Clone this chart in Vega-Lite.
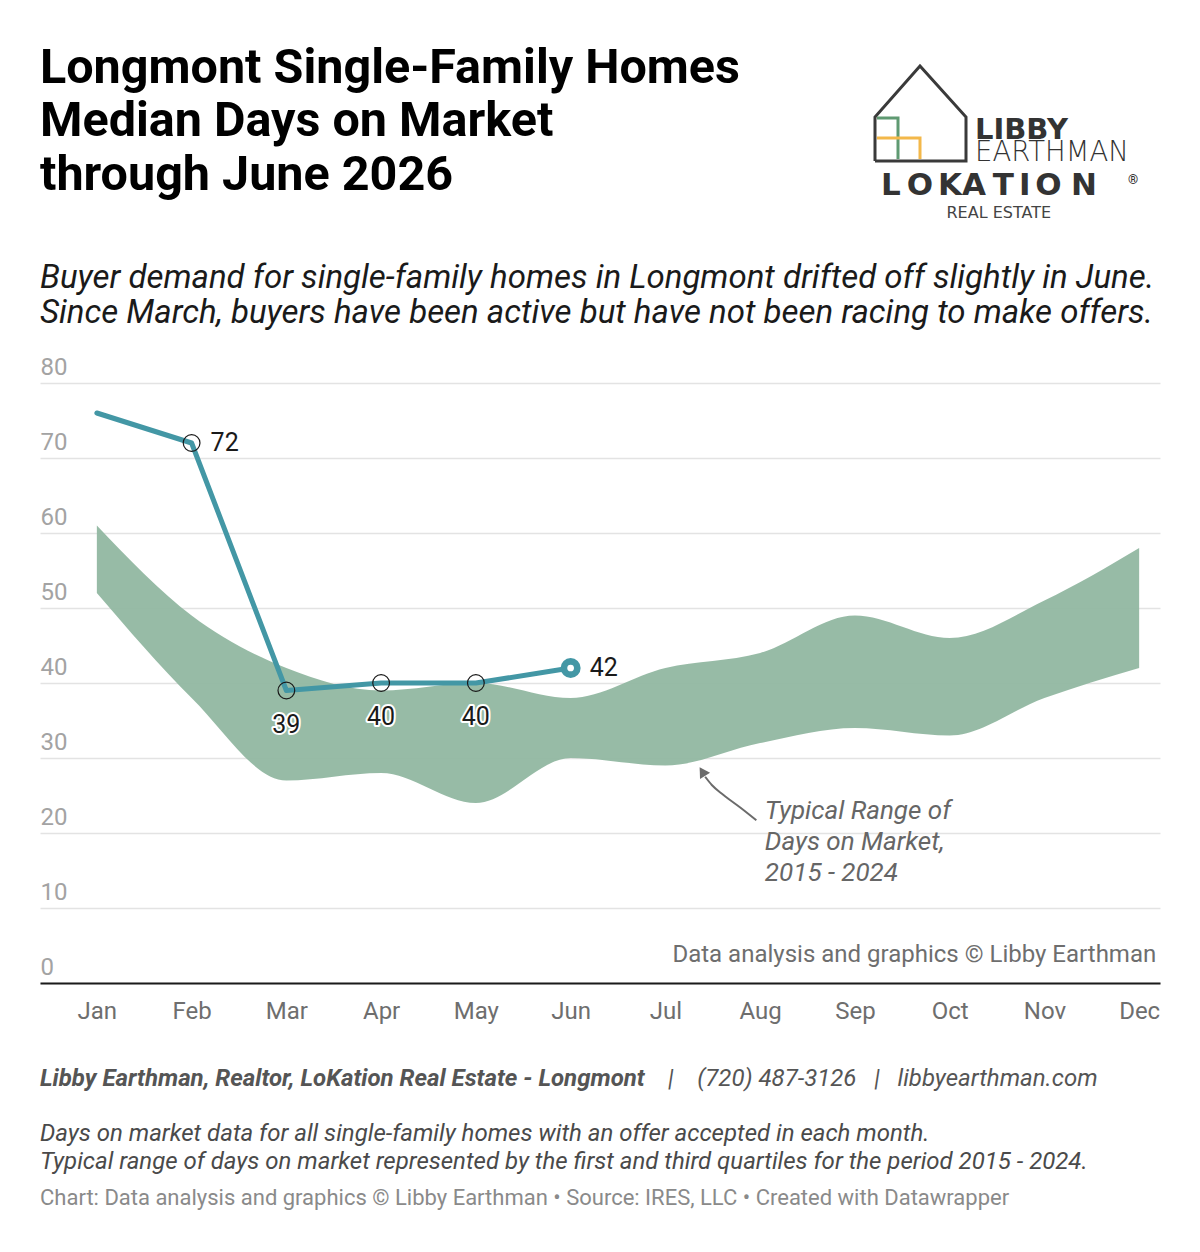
{
  "$schema": "https://vega.github.io/schema/vega-lite/v6.json",
  "background": "white",
  "padding": {"left": 40, "right": 40, "top": 40, "bottom": 0},
  "config": {
    "font": "Roboto",
    "view": {"stroke": null},
    "title": {"anchor": "start", "frame": "group", "color": "#111111", "fontWeight": "normal"},
    "axisY": {
      "domain": false, "ticks": false, "tickCount": 8,
      "gridColor": "#e3e3e3", "gridWidth": 1.5,
      "labelAlign": "left", "labelBaseline": "alphabetic", "labelPadding": 0, "labelOffset": -9,
      "labelFontSize": 24, "labelColor": "#a3a3a3"
    }
  },
  "datasets": {
    "band": [
      {"m": 1, "lo": 52, "hi": 61},
      {"m": 2, "lo": 38, "hi": 49},
      {"m": 3, "lo": 27, "hi": 42},
      {"m": 4, "lo": 28, "hi": 39},
      {"m": 5, "lo": 24, "hi": 40},
      {"m": 6, "lo": 30, "hi": 38},
      {"m": 7, "lo": 29, "hi": 42},
      {"m": 8, "lo": 32, "hi": 44},
      {"m": 9, "lo": 34, "hi": 49},
      {"m": 10, "lo": 33, "hi": 46},
      {"m": 11, "lo": 38, "hi": 51},
      {"m": 12, "lo": 42, "hi": 58}
    ],
    "dom": [
      {"m": 1, "v": 76},
      {"m": 2, "v": 72},
      {"m": 3, "v": 39},
      {"m": 4, "v": 40},
      {"m": 5, "v": 40},
      {"m": 6, "v": 42}
    ],
    "arrow": [
      {"m": 7.96, "v": 21.7},
      {"m": 7.79, "v": 23.4},
      {"m": 7.61, "v": 25.1},
      {"m": 7.49, "v": 26.4},
      {"m": 7.42, "v": 27.5}
    ],
    "arrowhead": [{"m": 7.39, "v": 28.2}],
    "note": [{"m": 8.05, "v": 21.9}],
    "credit": [{"m": 12.18, "v": 2.84}],
    "logo": [
      {"part": "house", "i": 0, "x": 2, "y": 96},
      {"part": "house", "i": 1, "x": 2, "y": 52},
      {"part": "house", "i": 2, "x": 47, "y": 1},
      {"part": "house", "i": 3, "x": 93, "y": 52},
      {"part": "house", "i": 4, "x": 93, "y": 96},
      {"part": "house", "i": 5, "x": 2, "y": 96},
      {"part": "green", "i": 0, "x": 4, "y": 53},
      {"part": "green", "i": 1, "x": 25, "y": 53},
      {"part": "green", "i": 2, "x": 25, "y": 94},
      {"part": "yellow", "i": 0, "x": 4, "y": 73},
      {"part": "yellow", "i": 1, "x": 47, "y": 73},
      {"part": "yellow", "i": 2, "x": 47, "y": 94}
    ],
    "logotext": [
      {"k": "libby", "x": 102, "y": 74, "t": "LIBBY"},
      {"k": "earthman", "x": 102, "y": 96, "t": "EARTHMAN"},
      {"k": "reg", "x": 260, "y": 118.5, "t": "®"},
      {"k": "real", "x": 73.5, "y": 153, "t": "REAL ESTATE"}
    ],
    "lokation": [
      {"x": 17.8, "y": 130, "t": "L"},
      {"x": 47, "y": 130, "t": "O"},
      {"x": 77, "y": 130, "t": "K"},
      {"x": 101, "y": 130, "t": "A"},
      {"x": 130.3, "y": 130, "t": "T"},
      {"x": 151.7, "y": 130, "t": "I"},
      {"x": 175.5, "y": 130, "t": "O"},
      {"x": 211, "y": 130, "t": "N"}
    ]
  },
  "spacing": 40,
  "vconcat": [
    {
      "spacing": 0,
      "hconcat": [
        {
          "width": 820,
          "height": 182,
          "data": {"values": [{}]},
          "mark": {"type": "point", "opacity": 0},
          "title": {
            "text": ["Longmont Single-Family Homes", "Median Days on Market", "through June 2026"],
            "fontSize": 48.5, "fontWeight": "bold", "color": "#000000", "lineHeight": 53.5, "offset": -160
          }
        },
        {
          "width": 280,
          "height": 182,
          "encoding": {
            "x": {"field": "x", "type": "quantitative", "scale": {"domain": [-13, 267], "nice": false, "zero": false}, "axis": null},
            "y": {"field": "y", "type": "quantitative", "scale": {"domain": [-25, 157], "nice": false, "zero": false, "reverse": true}, "axis": null}
          },
          "layer": [
            {
              "data": {"name": "logo"},
              "transform": [{"filter": "datum.part == 'house'"}],
              "mark": {"type": "line", "color": "#3a3a3a", "strokeWidth": 3, "strokeJoin": "miter"},
              "encoding": {"order": {"field": "i"}}
            },
            {
              "data": {"name": "logo"},
              "transform": [{"filter": "datum.part == 'green'"}],
              "mark": {"type": "line", "color": "#5f9a72", "strokeWidth": 3, "strokeJoin": "miter"},
              "encoding": {"order": {"field": "i"}}
            },
            {
              "data": {"name": "logo"},
              "transform": [{"filter": "datum.part == 'yellow'"}],
              "mark": {"type": "line", "color": "#f3b84a", "strokeWidth": 3, "strokeJoin": "miter"},
              "encoding": {"order": {"field": "i"}}
            },
            {
              "data": {"name": "logotext"},
              "transform": [{"filter": "datum.k == 'libby'"}],
              "mark": {"type": "text", "align": "left", "baseline": "alphabetic", "font": "DejaVu Sans", "fontSize": 29, "fontWeight": "bold", "color": "#333333"},
              "encoding": {"text": {"field": "t"}}
            },
            {
              "data": {"name": "logotext"},
              "transform": [{"filter": "datum.k == 'earthman'"}],
              "mark": {"type": "text", "align": "left", "baseline": "alphabetic", "font": "DejaVu Sans", "fontSize": 27.5, "fontWeight": 300, "color": "#333333"},
              "encoding": {"text": {"field": "t"}}
            },
            {
              "data": {"name": "lokation"},
              "mark": {"type": "text", "align": "center", "baseline": "alphabetic", "font": "DejaVu Sans", "fontSize": 31, "fontWeight": "bold", "color": "#333333"},
              "encoding": {"text": {"field": "t"}}
            },
            {
              "data": {"name": "logotext"},
              "transform": [{"filter": "datum.k == 'reg'"}],
              "mark": {"type": "text", "align": "center", "baseline": "alphabetic", "fontSize": 13, "fontWeight": "bold", "color": "#333333"},
              "encoding": {"text": {"field": "t"}}
            },
            {
              "data": {"name": "logotext"},
              "transform": [{"filter": "datum.k == 'real'"}],
              "mark": {"type": "text", "align": "left", "baseline": "alphabetic", "font": "DejaVu Sans", "fontSize": 16, "color": "#444444"},
              "encoding": {"text": {"field": "t"}}
            }
          ]
        }
      ]
    },
    {
      "width": 1120,
      "height": 600,
      "title": {
        "text": ["Buyer demand for single-family homes in Longmont drifted off slightly in June.", "Since March, buyers have been active but have not been racing to make offers."],
        "fontSize": 33, "fontStyle": "italic", "color": "#1a1a1a", "lineHeight": 35, "offset": 25
      },
      "encoding": {
        "x": {
          "field": "m", "type": "quantitative", "title": null,
          "scale": {"domain": [0.4, 12.22], "nice": false, "zero": false},
          "axis": {
            "values": [1, 2, 3, 4, 5, 6, 7, 8, 9, 10, 11, 12],
            "labelExpr": "['Jan','Feb','Mar','Apr','May','Jun','Jul','Aug','Sep','Oct','Nov','Dec'][datum.value - 1]",
            "grid": false, "ticks": false, "domainColor": "#1a1a1a", "domainWidth": 2,
            "labelFontSize": 24, "labelColor": "#6e6e6e", "labelPadding": 16,
            "labelFlush": false, "labelOverlap": false, "zindex": 1
          }
        }
      },
      "layer": [
        {
          "data": {"name": "band"},
          "mark": {"type": "area", "color": "#94b9a3", "opacity": 0.97, "interpolate": "monotone"},
          "encoding": {
            "y": {"field": "hi", "type": "quantitative", "title": null, "scale": {"domain": [0, 80], "nice": false}},
            "y2": {"field": "lo"}
          }
        },
        {
          "data": {"name": "dom"},
          "mark": {"type": "line", "color": "#4397a5", "strokeWidth": 5, "strokeCap": "round", "strokeJoin": "round"},
          "encoding": {"y": {"field": "v", "type": "quantitative", "title": null}}
        },
        {
          "data": {"name": "dom"},
          "transform": [{"filter": "datum.m >= 2 && datum.m <= 5"}],
          "mark": {"type": "point", "shape": "circle", "filled": false, "size": 280, "stroke": "#1a1a1a", "strokeWidth": 1.2, "opacity": 1},
          "encoding": {"y": {"field": "v", "type": "quantitative", "title": null}}
        },
        {
          "data": {"name": "dom"},
          "transform": [{"filter": "datum.m == 6"}],
          "mark": {"type": "point", "shape": "circle", "filled": true, "size": 400, "color": "#4397a5", "opacity": 1},
          "encoding": {"y": {"field": "v", "type": "quantitative", "title": null}}
        },
        {
          "data": {"name": "dom"},
          "transform": [{"filter": "datum.m == 6"}],
          "mark": {"type": "point", "shape": "circle", "filled": true, "size": 45, "color": "#ffffff", "opacity": 1},
          "encoding": {"y": {"field": "v", "type": "quantitative", "title": null}}
        },
        {
          "data": {"name": "dom"},
          "transform": [{"filter": "datum.m == 2 || datum.m == 6"}],
          "mark": {"type": "text", "align": "left", "baseline": "middle", "dx": 19, "fontSize": 25, "color": "#ffffff", "stroke": "#ffffff", "strokeWidth": 4, "strokeJoin": "round"},
          "encoding": {"y": {"field": "v", "type": "quantitative", "title": null}, "text": {"field": "v"}}
        },
        {
          "data": {"name": "dom"},
          "transform": [{"filter": "datum.m == 2 || datum.m == 6"}],
          "mark": {"type": "text", "align": "left", "baseline": "middle", "dx": 19, "fontSize": 25, "color": "#1a1a1a"},
          "encoding": {"y": {"field": "v", "type": "quantitative", "title": null}, "text": {"field": "v"}}
        },
        {
          "data": {"name": "dom"},
          "transform": [{"filter": "datum.m >= 3 && datum.m <= 5"}],
          "mark": {"type": "text", "align": "center", "baseline": "middle", "dy": 34, "fontSize": 25, "color": "#ffffff", "stroke": "#ffffff", "strokeWidth": 4, "strokeJoin": "round"},
          "encoding": {"y": {"field": "v", "type": "quantitative", "title": null}, "text": {"field": "v"}}
        },
        {
          "data": {"name": "dom"},
          "transform": [{"filter": "datum.m >= 3 && datum.m <= 5"}],
          "mark": {"type": "text", "align": "center", "baseline": "middle", "dy": 34, "fontSize": 25, "color": "#1a1a1a"},
          "encoding": {"y": {"field": "v", "type": "quantitative", "title": null}, "text": {"field": "v"}}
        },
        {
          "data": {"name": "arrow"},
          "mark": {"type": "line", "color": "#6b6b6b", "strokeWidth": 2, "interpolate": "monotone"},
          "encoding": {"y": {"field": "v", "type": "quantitative", "title": null}}
        },
        {
          "data": {"name": "arrowhead"},
          "mark": {"type": "point", "shape": "triangle-up", "filled": true, "size": 140, "angle": -32, "color": "#6b6b6b", "opacity": 1},
          "encoding": {"y": {"field": "v", "type": "quantitative", "title": null}}
        },
        {
          "data": {"name": "note"},
          "mark": {"type": "text", "align": "left", "baseline": "alphabetic", "fontSize": 26, "fontStyle": "italic", "color": "#666666", "lineHeight": 31, "text": ["Typical Range of", "Days on Market,", "2015 - 2024"]},
          "encoding": {"y": {"field": "v", "type": "quantitative", "title": null}}
        },
        {
          "data": {"name": "credit"},
          "mark": {"type": "text", "align": "right", "baseline": "alphabetic", "fontSize": 24, "color": "#6e6e6e", "text": "Data analysis and graphics © Libby Earthman"},
          "encoding": {"y": {"field": "v", "type": "quantitative", "title": null}}
        }
      ]
    },
    {
      "spacing": 29,
      "vconcat": [
        {
          "spacing": 0,
          "hconcat": [
            {
              "width": 628,
              "height": 1,
              "data": {"values": [{}]},
              "mark": {"type": "point", "opacity": 0},
              "title": {"text": "Libby Earthman, Realtor, LoKation Real Estate - Longmont", "orient": "bottom", "offset": -2, "fontSize": 24, "fontWeight": "bold", "fontStyle": "italic", "color": "#555555"}
            },
            {
              "width": 480,
              "height": 1,
              "data": {"values": [{}]},
              "mark": {"type": "point", "opacity": 0},
              "title": {"text": "|\u00a0\u00a0\u00a0\u00a0(720) 487-3126\u00a0\u00a0\u00a0|\u00a0\u00a0\u00a0libbyearthman.com", "orient": "bottom", "offset": -2, "fontSize": 24, "fontStyle": "italic", "color": "#555555"}
            }
          ]
        },
        {
          "width": 1120,
          "height": 1,
          "data": {"values": [{}]},
          "mark": {"type": "point", "opacity": 0},
          "title": {
            "text": ["Days on market data for all single-family homes with an offer accepted in each month.", "Typical range of days on market represented by the first and third quartiles for the period 2015 - 2024."],
            "fontSize": 24, "fontStyle": "italic", "color": "#4a4a4a", "lineHeight": 28,
            "subtitle": "Chart: Data analysis and graphics © Libby Earthman • Source: IRES, LLC • Created with Datawrapper",
            "subtitleFontSize": 22, "subtitleColor": "#8a8a8a", "subtitlePadding": 14
          }
        }
      ]
    }
  ]
}
